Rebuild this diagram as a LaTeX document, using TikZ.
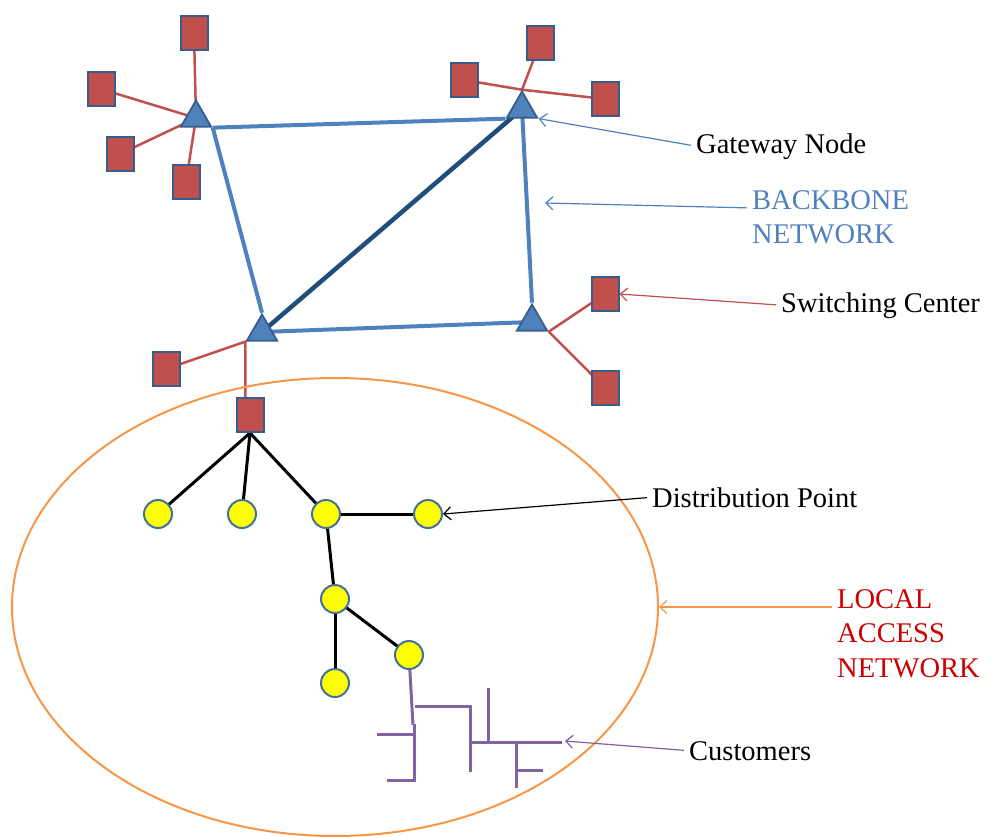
\documentclass[tikz,border=0pt]{standalone}
\usepackage{fontspec}
\setmainfont{Liberation Serif}
\usetikzlibrary{shapes.geometric,arrows.meta,backgrounds}
\definecolor{sqred}{HTML}{C0504D}
\definecolor{edgeblue}{HTML}{385D8A}
\definecolor{triblue}{HTML}{4F81BD}
\definecolor{coreline}{HTML}{1F4E79}
\definecolor{dotyellow}{HTML}{FFFF00}
\definecolor{dotedge}{HTML}{41719C}
\definecolor{custpurple}{HTML}{8064A2}
\definecolor{lanorange}{HTML}{F79646}
\definecolor{labelred}{HTML}{CC0000}
\begin{document}
\begin{tikzpicture}[x=1pt,y=-1pt,
  switchbox/.style={rectangle, fill=sqred, draw=edgeblue, line width=2pt,
    minimum width=27pt, minimum height=34pt, inner sep=0pt},
  gateway/.style={regular polygon, regular polygon sides=3, fill=triblue,
    draw=edgeblue, line width=1.8pt, minimum size=35pt, inner sep=0pt},
  dpoint/.style={circle, fill=dotyellow, draw=dotedge, line width=2pt,
    minimum size=28pt, inner sep=0pt},
  lbl/.style={inner sep=0pt, font=\fontsize{28.5}{34.5}\selectfont},
  redlink/.style={draw=sqred, line width=2.5pt},
  backbone/.style={draw=triblue, line width=4pt},
  corelink/.style={draw=coreline, line width=4.5pt},
  tree/.style={draw=black, line width=3pt},
  wire/.style={draw=custpurple, line width=3pt},
  pointer/.style={-{Straight Barb[length=7pt,width=13pt]}, line width=1.2pt,
    shorten <=5pt}]
\useasboundingbox (0,0) rectangle (988,836);

% local access area
\node[ellipse, draw=lanorange, line width=2pt, minimum width=646pt,
  minimum height=458pt, inner sep=0pt] (lan) at (335,607) {};

% switching centers
\node[switchbox] (s1) at (194,33) {};
\node[switchbox] (s2) at (101,89) {};
\node[switchbox] (s3) at (120,154) {};
\node[switchbox] (s4) at (186,182) {};
\node[switchbox] (s5) at (540,43) {};
\node[switchbox] (s6) at (464,80) {};
\node[switchbox] (s7) at (605,99) {};
\node[switchbox] (s8) at (605,294) {};
\node[switchbox] (s9) at (605,388) {};
\node[switchbox] (s10) at (166,369) {};
\node[switchbox] (s11) at (250,415) {};

% gateway nodes
\node[gateway] (g1) at (196,118) {};
\node[gateway] (g2) at (522,109) {};
\node[gateway] (g3) at (532,322) {};
\node[gateway] (g4) at (262,332) {};

% distribution points
\node[dpoint] (d1) at (158,514) {};
\node[dpoint] (d2) at (242,514) {};
\node[dpoint] (d3) at (326,514) {};
\node[dpoint] (d4) at (428,514) {};
\node[dpoint] (d5) at (335,599) {};
\node[dpoint] (d6) at (409,655) {};
\node[dpoint] (d7) at (335,683) {};

\begin{scope}[on background layer]
  % switching centers to gateways
  \draw[redlink] (s1.center) -- (g1.center);
  \draw[redlink] (s2.center) -- (g1.center);
  \draw[redlink] (s3.center) -- (g1.center);
  \draw[redlink] (s4.center) -- (g1.center);
  \draw[redlink] (s5.center) -- (g2.corner 1);
  \draw[redlink] (s6.center) -- (g2.corner 1) -- (s7.center);
  \draw[redlink] (g3.corner 3) -- (s8.center);
  \draw[redlink] (g3.corner 3) -- (s9.center);
  \draw[redlink] (s10.center) -- (g4.corner 2) -- (g4.corner 2 |- s11.north);
  % backbone ring
  \draw[backbone] (g1.corner 3) -- (g2.corner 2);
  \draw[backbone] (g1.corner 3) -- (g4.corner 1);
  \draw[backbone] (g2.center) -- (g3.corner 1);
  \draw[backbone] (g4.center) -- (g3.center);
  \draw[corelink] (g4.center) -- (g2.center);
  % distribution tree
  \draw[tree] (s11.south) -- (d1.center);
  \draw[tree] (s11.south) -- (d2.center);
  \draw[tree] (s11.south) -- (d3.center);
  \draw[tree] (d3.center) -- (d4.center);
  \draw[tree] (d3.center) -- (d5.center);
  \draw[tree] (d5.center) -- (d6.center);
  \draw[tree] (d5.center) -- (d7.center);
  \draw[wire] (d6.center) -- (413,725);
\end{scope}

% customer drop wiring
\draw[wire] (377,734) -- (414,734);
\draw[wire] (414,724) -- (414,780) -- (387,780);
\draw[wire] (415,706) -- (470,706) -- (470,772);
\draw[wire] (488,688) -- (488,742);
\draw[wire] (470,742) -- (562,742);
\draw[wire] (516,742) -- (516,788);
\draw[wire] (516,770) -- (543,770);
\coordinate (custtip) at (565,741);
\coordinate (bbtip) at (545,203);

% labels (multi-line labels are placed by the baseline of their last line)
\node[lbl, anchor=base west] (gwl) at (696,153) {Gateway Node};
\node[lbl, anchor=base west, align=left, text=triblue] (bbl) at (752,243.5) {BACKBONE\\NETWORK};
\node[lbl, anchor=base west] (scl) at (781,312) {Switching Center};
\node[lbl, anchor=base west] (dpl) at (652,507) {Distribution Point};
\node[lbl, anchor=base west, align=left, text=labelred] (lal) at (837,677) {LOCAL\\ACCESS\\NETWORK};
\node[lbl, anchor=base west] (cul) at (689,760) {Customers};

% pointers
\draw[pointer, triblue] (gwl.west) -- (g2.corner 3);
\draw[pointer, triblue] (bbl.west |- 0,208) -- (bbtip);
\draw[pointer, sqred] (scl.west) -- (s8.east);
\draw[pointer, black] (dpl.west) -- (d4.east);
\draw[pointer, lanorange] (lal.west |- lan.east) -- (lan.east);
\draw[pointer, custpurple] (cul.west) -- (custtip);
\end{tikzpicture}
\end{document}
